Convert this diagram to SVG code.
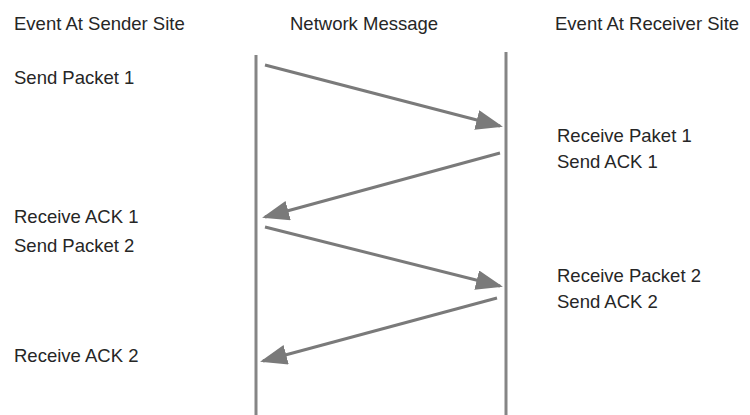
<svg xmlns="http://www.w3.org/2000/svg" width="750" height="415" viewBox="0 0 750 415">
  <style>
    .lbl { font-family: "Liberation Sans", Arial, sans-serif; font-size: 18.5px; fill: #262626; }
    .life { stroke: #858585; stroke-width: 3; fill: none; }
    .msg { stroke: #7a7a7a; stroke-width: 3; fill: none; marker-end: url(#head); }
  </style>
  <defs>
    <marker id="head" markerUnits="userSpaceOnUse" markerWidth="28" markerHeight="22" refX="24" refY="10" orient="auto">
      <path d="M0,0 L27,10 L0,20 Z" fill="#7a7a7a"/>
    </marker>
  </defs>
  <rect width="750" height="415" fill="#ffffff"/>

  <!-- column headings -->
  <g id="headings">
    <text class="lbl" x="14" y="30">Event At Sender Site</text>
    <text class="lbl" x="290" y="30">Network Message</text>
    <text class="lbl" x="555" y="30">Event At Receiver Site</text>
  </g>

  <!-- sender and receiver timelines -->
  <g id="sender-line">
    <line class="life" x1="256" y1="55" x2="256" y2="415"/>
  </g>
  <g id="receiver-line">
    <line class="life" x1="506" y1="52" x2="506" y2="415"/>
  </g>

  <!-- sender-side events -->
  <g id="sender-events">
    <text class="lbl" x="14" y="84">Send Packet 1</text>
    <text class="lbl" x="14" y="223">Receive ACK 1</text>
    <text class="lbl" x="14" y="252">Send Packet 2</text>
    <text class="lbl" x="14" y="362">Receive ACK 2</text>
  </g>

  <!-- receiver-side events -->
  <g id="receiver-events">
    <text class="lbl" x="557" y="142">Receive Paket 1</text>
    <text class="lbl" x="557" y="168">Send ACK 1</text>
    <text class="lbl" x="557" y="282">Receive Packet 2</text>
    <text class="lbl" x="557" y="308">Send ACK 2</text>
  </g>

  <!-- messages -->
  <g id="connectors">
    <line class="msg" x1="265" y1="65" x2="500" y2="126"/>
    <line class="msg" x1="500" y1="153" x2="265" y2="217"/>
    <line class="msg" x1="265" y1="227" x2="500" y2="286"/>
    <line class="msg" x1="497" y1="298" x2="263" y2="361"/>
  </g>
</svg>
